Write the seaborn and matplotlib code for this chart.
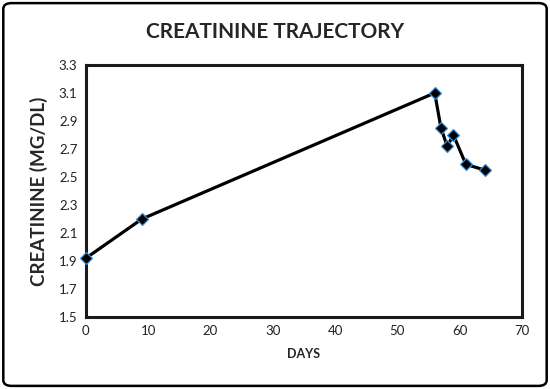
import pandas as pd
import matplotlib.pyplot as plt
import seaborn as sns
from matplotlib.patches import FancyBboxPatch

# Data
days = [0, 9, 56, 57, 58, 59, 61, 64]
creatinine = [1.92, 2.2, 3.1, 2.85, 2.72, 2.8, 2.59, 2.55]
x_ticks = [0, 10, 20, 30, 40, 50, 60, 70]
y_ticks = [1.5, 1.7, 1.9, 2.1, 2.3, 2.5, 2.7, 2.9, 3.1, 3.3]

df = pd.DataFrame({'Days': days, 'Creatinine': creatinine})

sns.set_theme(style="white")
plt.rcParams['font.family'] = ['Lato', 'DejaVu Sans']

fig = plt.figure(figsize=(5.5, 3.89), dpi=100)
ax = fig.add_axes([0.156, 0.185, 0.793, 0.648])

sns.lineplot(data=df, x='Days', y='Creatinine', ax=ax, color='black', linewidth=2.3,
             marker='D', markersize=6.5, markerfacecolor='black',
             markeredgecolor='#3a8fd8', markeredgewidth=0.9, clip_on=False, zorder=5)

ax.set_xlim(0, 70)
ax.set_ylim(1.5, 3.3)
ax.set_xticks(x_ticks)
ax.set_yticks(y_ticks)
ax.set_yticklabels([f'{v:.1f}' for v in y_ticks])
ax.tick_params(axis='both', labelsize=9.5, length=0, pad=6, colors='#222222')
for s in ax.spines.values():
    s.set_linewidth(2.2)
    s.set_color('#1a1a1a')

ax.set_xlabel('DAYS', fontsize=9, fontweight='bold', labelpad=8)
ax.set_ylabel('CREATININE (MG/DL)', fontsize=13.5, fontweight='bold', labelpad=8)
fig.text(0.5, 0.918, 'CREATININE TRAJECTORY', ha='center', va='center',
         fontsize=15, fontweight='bold')

# outer chart border
fig.patches.append(FancyBboxPatch((0.006, 0.008), 0.988, 0.984,
                                  boxstyle='round,pad=0,rounding_size=0.015',
                                  transform=fig.transFigure, fill=False,
                                  edgecolor='black', linewidth=1.8))

fig.savefig('out.png', dpi=100)
plt.close()
